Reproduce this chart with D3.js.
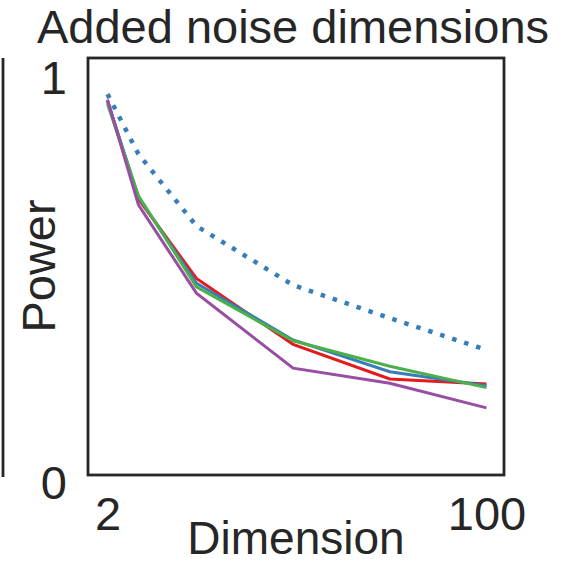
<!DOCTYPE html>
<html>
<head>
<meta charset="utf-8">
<script src="https://cdn.jsdelivr.net/npm/d3@7"></script>
<style>
  html, body { margin: 0; padding: 0; background: #fff; }
  svg { display: block; font-family: "Liberation Sans", Arial, sans-serif; }
</style>
</head>
<body>
<svg id="chart" width="562" height="564"></svg>
<script>
const dims = [2, 10, 25, 50, 75, 100];
const reference = [0.959, 0.808, 0.627, 0.478, 0.395, 0.315];
const redSeries = [0.942, 0.695, 0.495, 0.329, 0.242, 0.229];
const blueSeries = [0.942, 0.700, 0.483, 0.340, 0.260, 0.225];
const greenSeries = [0.934, 0.703, 0.474, 0.338, 0.274, 0.220];
const purpleSeries = [0.945, 0.680, 0.458, 0.269, 0.231, 0.169];
const xTicks = [2, 100];
const yTicks = [0, 1];

const series = [
  { values: redSeries, color: "#e41a1c", dash: null, width: 3 },
  { values: blueSeries, color: "#377eb8", dash: null, width: 3 },
  { values: greenSeries, color: "#4daf4a", dash: null, width: 3 },
  { values: purpleSeries, color: "#984ea3", dash: null, width: 3 },
  { values: reference, color: "#377eb8", dash: "4.5,8.1", width: 4.5 }
];

const svg = d3.select("#chart");
const L = 88, R = 504, T = 58, B = 475;
const x = d3.scaleLinear().domain([-3.04, 104.53]).range([L, R]);
const y = d3.scaleLinear().domain([0, 1.05]).range([B, T]);
const ink = "#262626";

const line = d3.line().x((d, i) => x(dims[i])).y(d => y(d));

const g = svg.append("g");
series.forEach(s => {
  g.append("path")
    .datum(s.values)
    .attr("d", line)
    .attr("fill", "none")
    .attr("stroke", s.color)
    .attr("stroke-width", s.width)
    .attr("stroke-linejoin", "miter")
    .attr("stroke-dasharray", s.dash);
});

// frame
svg.append("rect")
  .attr("x", L).attr("y", T)
  .attr("width", R - L).attr("height", B - T)
  .attr("fill", "none").attr("stroke", ink).attr("stroke-width", 2.8);

// x axis ticks
const xAxis = d3.axisBottom(x).tickValues(xTicks).tickFormat(d3.format("d")).tickSize(0).tickPadding(0);
const xg = svg.append("g").attr("transform", `translate(0,${B})`).call(xAxis);
xg.select(".domain").remove();
xg.selectAll("text")
  .attr("y", 55).attr("dy", null)
  .attr("font-size", 47).attr("fill", ink)
  .attr("font-family", "Liberation Sans, Arial, sans-serif");

// y axis ticks
const yAxis = d3.axisLeft(y).tickValues(yTicks).tickFormat(d3.format("d")).tickSize(0).tickPadding(0);
const yg = svg.append("g").attr("transform", `translate(67,0)`).call(yAxis);
yg.select(".domain").remove();
yg.selectAll("text")
  .attr("x", 0).attr("dy", d => d === 0 ? "23px" : "16px")
  .attr("font-size", 47).attr("fill", ink)
  .attr("font-family", "Liberation Sans, Arial, sans-serif");

// title
svg.append("text")
  .attr("x", 293).attr("y", 43)
  .attr("text-anchor", "middle")
  .attr("font-size", 47).attr("fill", ink)
  .text("Added noise dimensions");

// axis labels
svg.append("text")
  .attr("x", 296).attr("y", 554)
  .attr("text-anchor", "middle")
  .attr("font-size", 46).attr("fill", ink)
  .text("Dimension");

svg.append("text")
  .attr("transform", "translate(55,266) rotate(-90)")
  .attr("text-anchor", "middle")
  .attr("font-size", 47).attr("fill", ink)
  .text("Power");

// left edge line
svg.append("line")
  .attr("x1", 3).attr("x2", 3).attr("y1", 58).attr("y2", 477)
  .attr("stroke", ink).attr("stroke-width", 2.8);
</script>
</body>
</html>
